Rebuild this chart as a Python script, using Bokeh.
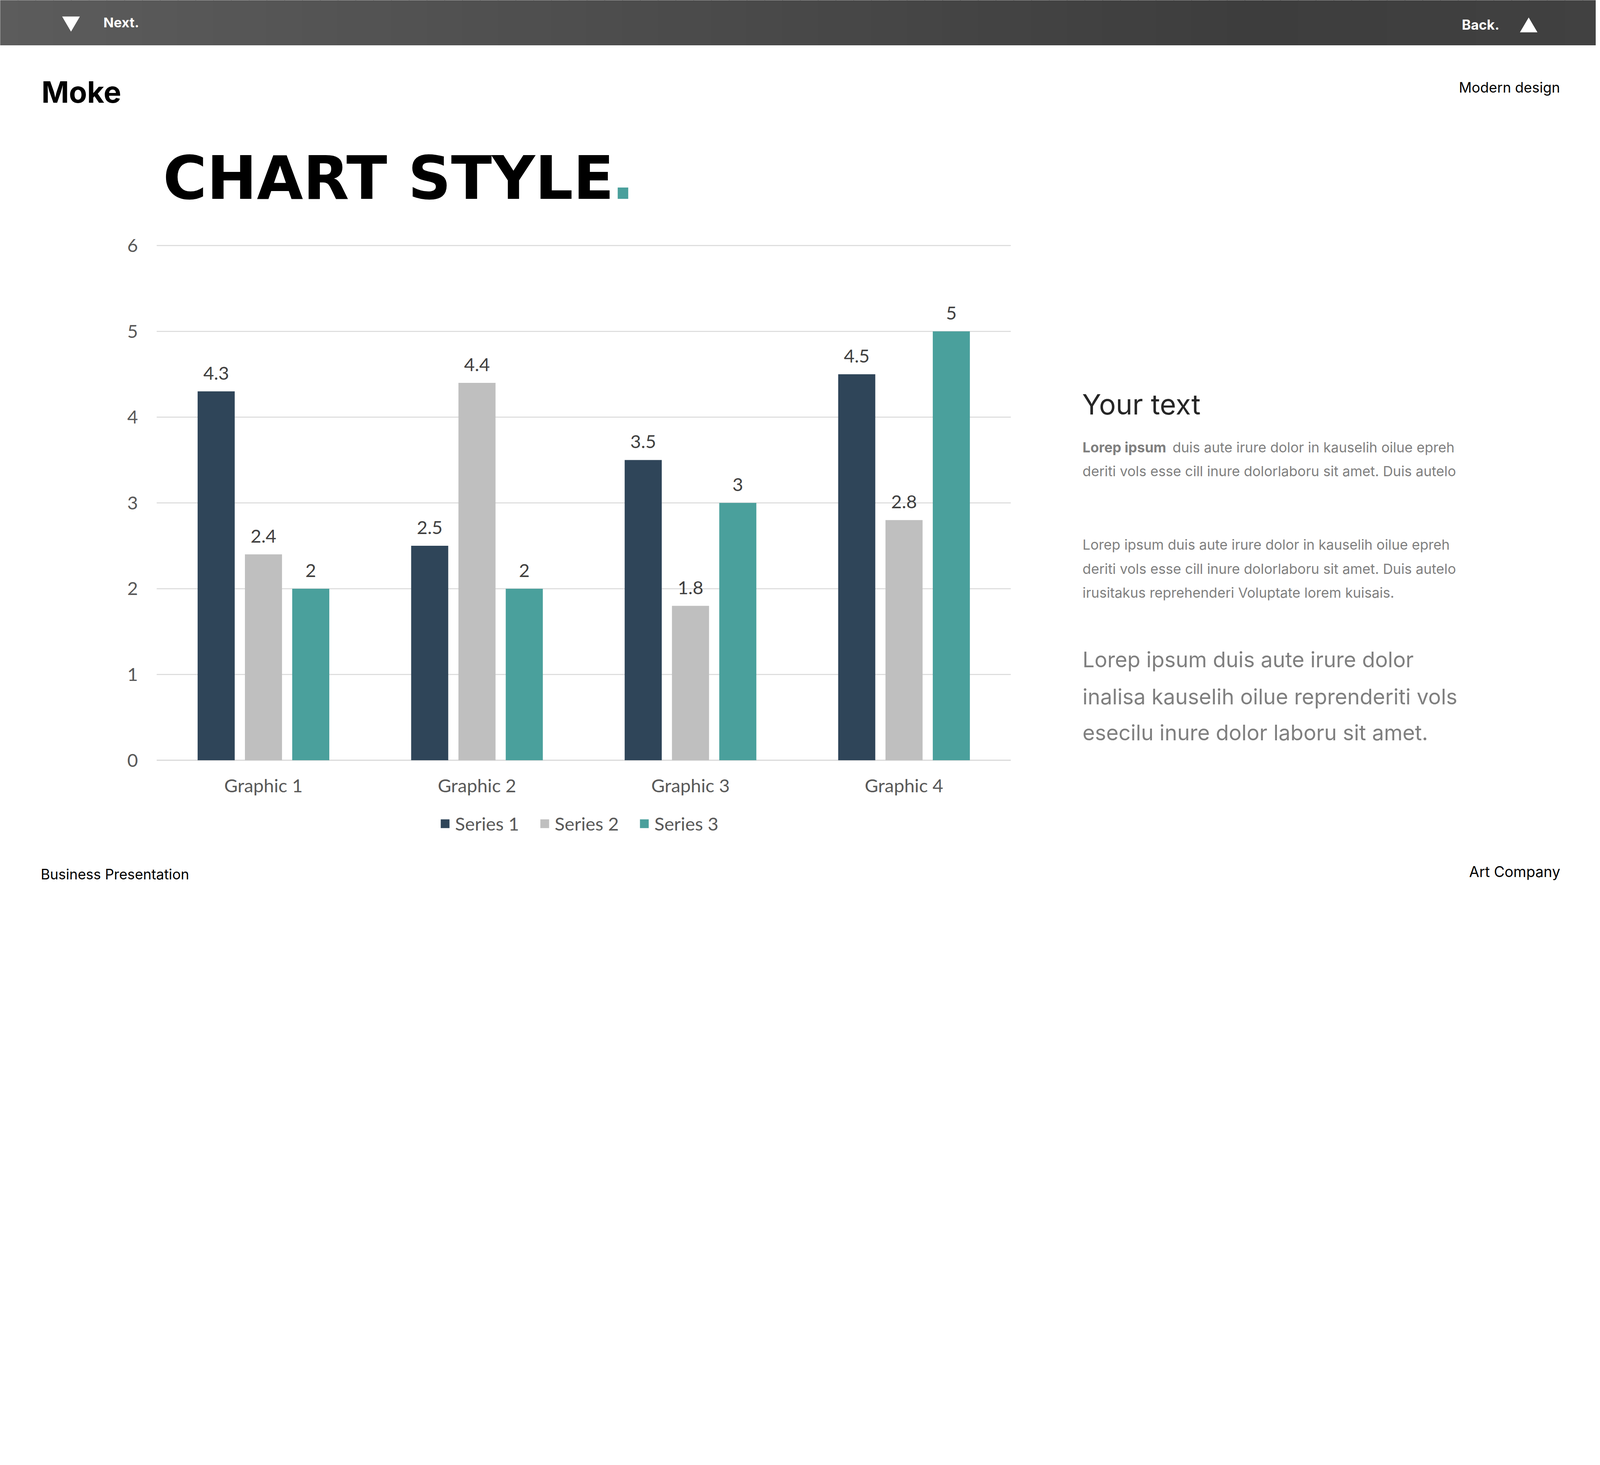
from bokeh.plotting import figure
from bokeh.models import ColumnDataSource, Range1d, LabelSet, Legend, LegendItem
from bokeh.transform import dodge
from bokeh.core.properties import value
from bokeh.embed import file_html
from bokeh.resources import INLINE

# ---------------- data ----------------
categories = ["Graphic 1", "Graphic 2", "Graphic 3", "Graphic 4"]
series_names = ["Series 1", "Series 2", "Series 3"]
series1 = [4.3, 2.5, 3.5, 4.5]
series2 = [2.4, 4.4, 1.8, 2.8]
series3 = [2.0, 2.0, 3.0, 5.0]
y_ticks = [0, 1, 2, 3, 4, 5, 6]

colors = ["#2F4559", "#BFBFBF", "#4AA09C"]

# ---------------- geometry: reference px -> css px ----------------
K = 4097 / 6667
W = 4085
H = 2290
X0_REF, X1_REF = 0.0, W / K
YT_REF, YB_REF = 0.0, H / K


def fs(size_ref):
    return f"{size_ref * K:.1f}px"


# chart plot area in reference px
CH_L, CH_R, CH_Y0, CH_YTOP = 652, 4210, 3166, 1022
n_cat = len(categories)
y_max = y_ticks[-1]


def lin(v, a, b, va, vb):
    return va + (v - a) * (vb - va) / (b - a)


p = figure(width=W, height=H,
           x_range=Range1d(X0_REF, X1_REF), y_range=Range1d(YB_REF, YT_REF),
           x_axis_type=None, y_axis_type=None, min_border=0,
           output_backend="svg", toolbar_location=None)
p.outline_line_color = None
p.background_fill_color = "white"
p.border_fill_color = "white"
p.grid.visible = False
p.extra_x_ranges = {"cx": Range1d(lin(X0_REF, CH_L, CH_R, 0, n_cat), lin(X1_REF, CH_L, CH_R, 0, n_cat))}
p.extra_y_ranges = {"cy": Range1d(lin(YB_REF, CH_Y0, CH_YTOP, 0, y_max), lin(YT_REF, CH_Y0, CH_YTOP, 0, y_max))}


def txt(x, y, s, font, size_ref, color, style="normal", align="left"):
    s_src = ColumnDataSource(dict(x=[x], y=[y], t=[s]))
    p.add_layout(LabelSet(x="x", y="y", text="t", source=s_src,
                          text_font=value(font), text_font_size=value(fs(size_ref)),
                          text_color=color, text_font_style=value(style),
                          text_align=value(align), text_baseline=value("alphabetic")))


UI = "Inter"
GRAY = "#7F7F7F"

# ---------------- top bar ----------------
n = 90
x_end = 6667
lefts, rights, shades = [], [], []
for i in range(n):
    x0 = i * x_end / n
    x1 = (i + 1) * x_end / n
    xm = (x0 + x1) / 2
    if xm < 5200:
        g = 92 - (92 - 61) * xm / 5200
    else:
        g = 61 + 4 * (xm - 5200) / (x_end - 5200)
    g = int(round(g))
    lefts.append(x0 - 1)
    rights.append(x1 + 1)
    shades.append("#%02x%02x%02x" % (g, g, g))
p.quad(left=lefts, right=rights, top=-20, bottom=188, fill_color=shades, line_color=None)
p.patches(xs=[[258, 332, 295], [6331, 6404, 6367.5]],
          ys=[[68, 68, 131], [134, 134, 72]], fill_color="white", line_color=None)

txt(430, 113, "Next.", UI, 56.5, "white", "bold")
txt(6089, 123, "Back.", UI, 57, "white", "bold")
txt(6498, 385, "Modern design", UI, 59, "black", align="right")
txt(172, 427, "Moke", UI, 123, "black", "bold")
txt(678, 827, "CHART STYLE", "DejaVu Sans", 249, "black", "bold")
txt(2547, 827, ".", "DejaVu Sans", 249, "#4AA09C", "bold")

# ---------------- right text ----------------
txt(4507, 1725, "Your text", UI, 117, "#262626")
txt(4509, 1884, "Lorep ipsum", UI, 58, GRAY, "bold")
txt(4884, 1884, "duis aute irure dolor in kauselih oilue epreh", UI, 58, GRAY)
txt(4509, 1983, "deriti vols esse cill inure dolorlaboru sit amet. Duis autelo", UI, 58, GRAY)
txt(4509, 2288, "Lorep  ipsum duis aute irure dolor in kauselih oilue epreh", UI, 58, GRAY)
txt(4509, 2389, "deriti vols esse cill inure dolorlaboru sit amet. Duis autelo", UI, 58, GRAY)
txt(4509, 2489, "irusitakus reprehenderi Voluptate lorem kuisais.", UI, 58, GRAY)
txt(4509, 2779, "Lorep  ipsum duis aute irure dolor", UI, 88.5, GRAY)
txt(4509, 2933, "inalisa kauselih oilue reprenderiti vols", UI, 88.5, GRAY)
txt(4509, 3083, "esecilu inure dolor laboru sit amet.", UI, 88.5, GRAY)

# ---------------- footer ----------------
txt(169, 3663, "Business Presentation", UI, 59, "black")
txt(6499, 3653, "Art Company", UI, 61, "black", align="right")

# ---------------- chart ----------------
CHART_FONT = "Lato"
FS = fs(77)

grid_src = ColumnDataSource(dict(
    y=y_ticks,
    lw=[3.0 if t == 0 else 2.5 for t in y_ticks],
    lab=[str(t) for t in y_ticks],
))
p.segment(x0=0, x1=n_cat, y0="y", y1="y", source=grid_src, line_color="#D9D9D9",
          line_width="lw", x_range_name="cx", y_range_name="cy")
p.add_layout(LabelSet(x=0, y="y", text="lab", source=grid_src,
                      x_range_name="cx", y_range_name="cy",
                      x_offset=-78 * K, text_align="right", text_baseline="middle",
                      text_font=value(CHART_FONT), text_font_size=FS,
                      text_color="#595959"))

src = ColumnDataSource(dict(
    cat=categories,
    xc=[i + 0.5 for i in range(n_cat)],
    s1=series1, s2=series2, s3=series3,
    t1=[f"{v:g}" for v in series1],
    t2=[f"{v:g}" for v in series2],
    t3=[f"{v:g}" for v in series3],
))

p.add_layout(LabelSet(x="xc", y=0, text="cat", source=src,
                      x_range_name="cx", y_range_name="cy",
                      y_offset=-133 * K, text_align="center", text_baseline="alphabetic",
                      text_font=value(CHART_FONT), text_font_size=FS,
                      text_color="#595959"))

BAR_W = 0.1737
STEP = 0.2215
offsets = [-STEP, 0.0, STEP]
fields = ["s1", "s2", "s3"]
tfields = ["t1", "t2", "t3"]

renderers = []
for f, tf, off, col in zip(fields, tfields, offsets, colors):
    r = p.vbar(x=dodge("xc", off), top=f, bottom=0, width=BAR_W, source=src,
               fill_color=col, line_color=None, x_range_name="cx", y_range_name="cy")
    renderers.append(r)
    p.add_layout(LabelSet(x=dodge("xc", off), y=f, text=tf, source=src,
                          x_range_name="cx", y_range_name="cy",
                          text_align="center", text_baseline="alphabetic", y_offset=49 * K,
                          text_font=value(CHART_FONT), text_font_size=FS,
                          text_color="#404040"))

leg_x = int(round(1831 * K))
leg_h = 57
leg_center = 3430 * K
leg_y = int(round(H - (leg_center - leg_h / 2) - leg_h))
legend = Legend(items=[LegendItem(label=nm, renderers=[r]) for nm, r in zip(series_names, renderers)],
                orientation="horizontal", location=(leg_x, leg_y),
                glyph_width=int(46 * K), glyph_height=int(46 * K),
                label_standoff=int(21 * K), spacing=int(83 * K),
                padding=0, margin=0, border_line_color=None, background_fill_alpha=0,
                label_text_font=CHART_FONT, label_text_font_size=FS,
                label_text_color="#595959")
p.add_layout(legend)

open("out.html", "w").write(file_html(p, INLINE))
